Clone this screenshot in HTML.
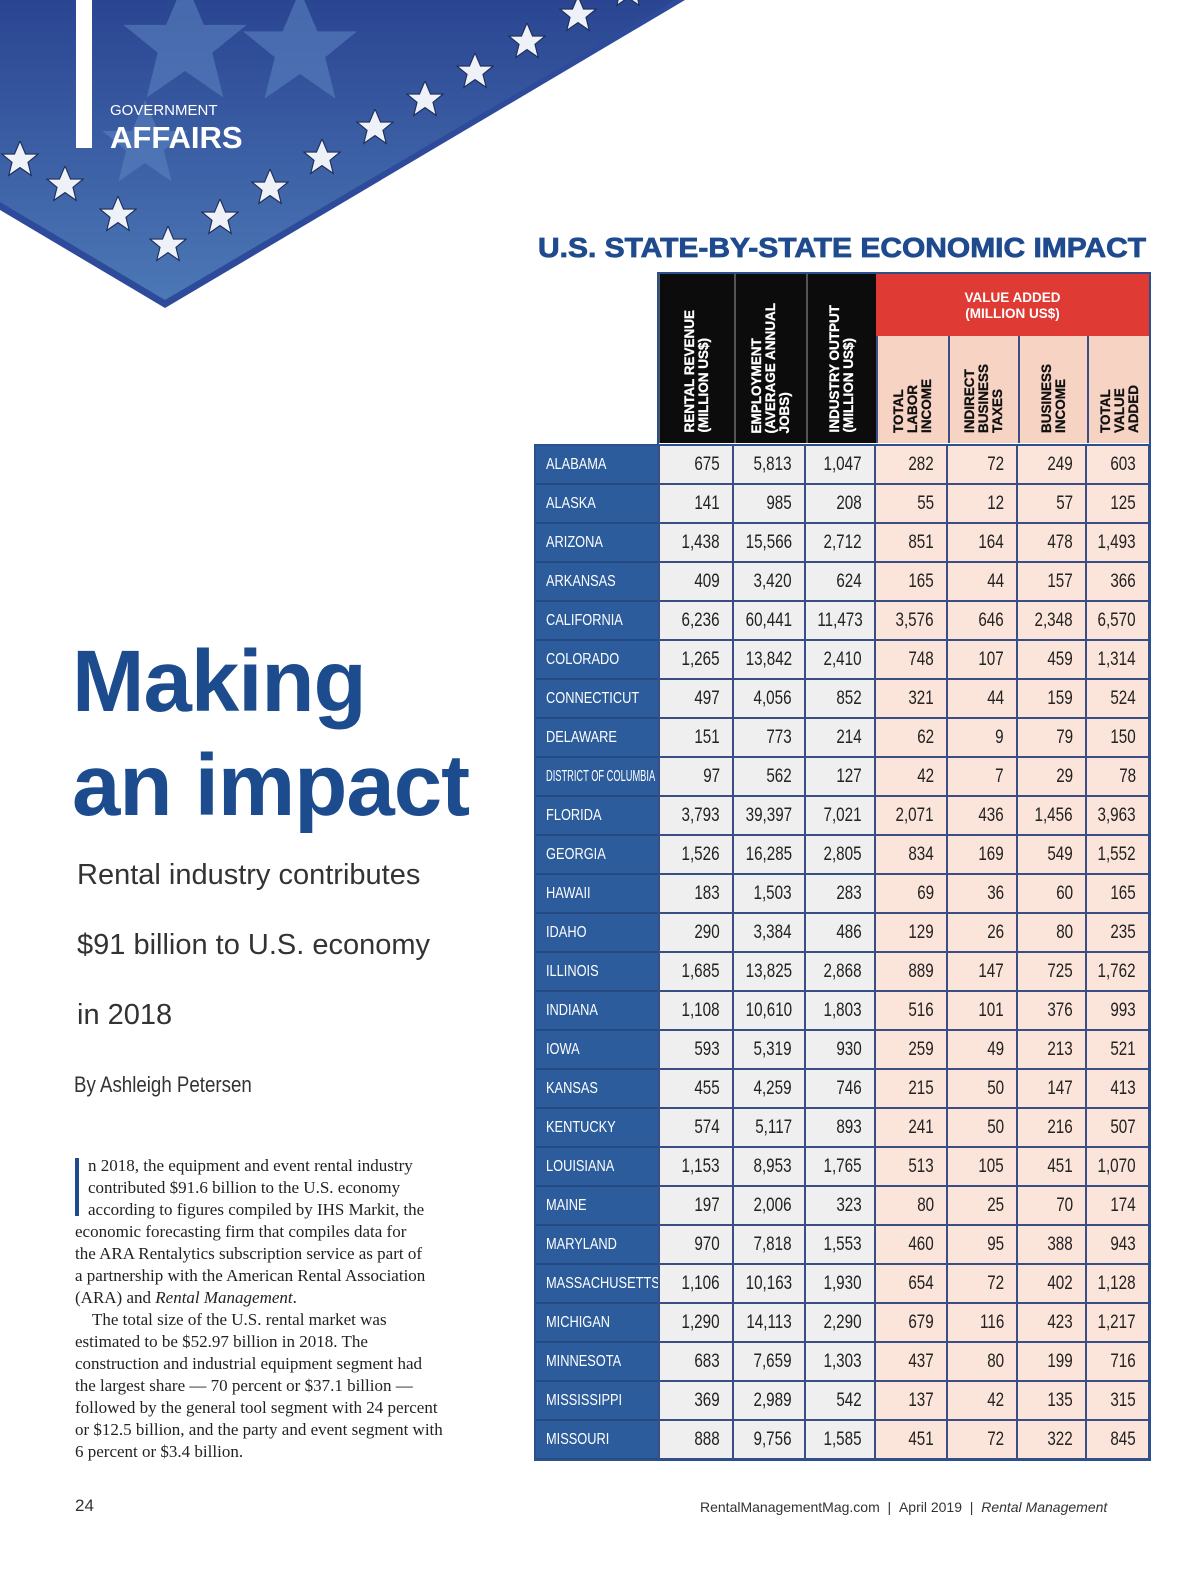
<!DOCTYPE html>
<html><head><meta charset="utf-8">
<style>
body{margin:0;width:1200px;height:1570px;background:#fff;position:relative;overflow:hidden;font-family:"Liberation Sans",sans-serif}
.abs{position:absolute}
#title{left:538px;top:232px;font:bold 28px "Liberation Sans",sans-serif;color:#1f4b8e;transform:scaleX(1.07);transform-origin:left;white-space:nowrap;letter-spacing:0;-webkit-text-stroke:0.8px #1f4b8e}
.hd{position:absolute;background:#0c0c0c;border-left:2px solid #555;top:273px;height:170px;box-sizing:border-box;display:flex;align-items:flex-end;justify-content:center;padding-bottom:10px}
.vt{writing-mode:vertical-rl;transform:rotate(180deg);font:bold 13.5px "Liberation Sans",sans-serif;line-height:14px;white-space:nowrap;color:#fff;text-align:left;-webkit-text-stroke:0.3px currentColor}
.cell{position:absolute;box-sizing:border-box;font:19px "Liberation Sans",sans-serif;color:#222;text-align:right;padding-right:12px;line-height:38px;border-right:2px solid #3a4d85;border-bottom:2px solid #3a4d85;white-space:nowrap}
.cell span{display:inline-block;transform:scaleX(0.8);transform-origin:right center}
.st{color:#fff;background:#2c5c9b;text-align:left;padding-left:11px;font-size:16px}
.st span{transform-origin:left center}
#body{left:75px;top:1155px;font:17px 'Liberation Serif',serif;color:#222;line-height:22px;white-space:nowrap}
</style></head><body>
<svg class="abs" style="left:0;top:0" width="700" height="320">
<defs><linearGradient id="g" x1="0" y1="0" x2="0" y2="1"><stop offset="0" stop-color="#2a4592"/><stop offset="1" stop-color="#4c78b6"/></linearGradient>
<symbol id="st" viewBox="-10 -10 20 20"><polygon points="0,-10 2.9,-3.1 9.5,-3.1 4.2,1.2 5.9,8.1 0,4 -5.9,8.1 -4.2,1.2 -9.5,-3.1 -2.9,-3.1"/></symbol></defs>
<polygon points="0,0 685,0 165,308 0,210" fill="#2e4a9a"/>
<polygon points="0,0 675,0 165,300 0,202" fill="url(#g)"/>
<g fill="#5a82c0" opacity=".6"><use href="#st" x="120" y="-20" width="130" height="130"/><use href="#st" x="240" y="-10" width="120" height="120"/><use href="#st" x="100" y="100" width="90" height="90"/></g>
<g fill="#eef2f8" stroke="#1f2f5a" stroke-width="0.6" id="stars"></g>
<rect x="76" y="0" width="16" height="148" fill="#fff"/>
<text x="110" y="115" fill="#fff" font-size="15" font-family="Liberation Sans">GOVERNMENT</text>
<text x="110" y="148" fill="#fff" font-size="31" font-weight="bold" font-family="Liberation Sans">AFFAIRS</text>
</svg>
<div class="abs" style="left:72px;top:630px;font:bold 87px 'Liberation Sans',sans-serif;color:#1d4c8e;line-height:104px;letter-spacing:-1px">Making<br>an impact</div>
<div class="abs" style="left:77px;top:840px;font:29px 'Liberation Sans',sans-serif;color:#333;line-height:70px">Rental industry contributes<br>$91 billion to U.S. economy<br>in 2018</div>
<div class="abs" style="left:74px;top:1072px;font:22px 'Liberation Sans',sans-serif;color:#333;transform:scaleX(0.85);transform-origin:left">By Ashleigh Petersen</div>
<div id="body" class="abs"><div style="position:absolute;left:0;top:3px;width:4px;height:58px;background:#1d4c8e"></div><div style="padding-left:13px">n 2018, the equipment and event rental industry<br>contributed $91.6 billion to the U.S. economy<br>according to figures compiled by IHS Markit, the</div>economic forecasting firm that compiles data for<br>the ARA Rentalytics subscription service as part of<br>a partnership with the American Rental Association<br>(ARA) and <i>Rental Management</i>.<br>&nbsp;&nbsp;&nbsp;&nbsp;The total size of the U.S. rental market was<br>estimated to be $52.97 billion in 2018. The<br>construction and industrial equipment segment had<br>the largest share — 70 percent or $37.1 billion —<br>followed by the general tool segment with 24 percent<br>or $12.5 billion, and the party and event segment with<br>6 percent or $3.4 billion.</div>
<div class="abs" style="left:75px;top:1496px;font:17px 'Liberation Sans',sans-serif;color:#333">24</div>
<div class="abs" style="left:700px;top:1499px;font:14px 'Liberation Sans',sans-serif;color:#333;white-space:nowrap">RentalManagementMag.com &nbsp;| &nbsp;April 2019 &nbsp;| &nbsp;<i>Rental Management</i></div>
<div id="title" class="abs">U.S. STATE-BY-STATE ECONOMIC IMPACT</div>
<div id="tbl"></div>
<script>
const states=["ALABAMA","ALASKA","ARIZONA","ARKANSAS","CALIFORNIA","COLORADO","CONNECTICUT","DELAWARE","DISTRICT OF COLUMBIA","FLORIDA","GEORGIA","HAWAII","IDAHO","ILLINOIS","INDIANA","IOWA","KANSAS","KENTUCKY","LOUISIANA","MAINE","MARYLAND","MASSACHUSETTS","MICHIGAN","MINNESOTA","MISSISSIPPI","MISSOURI"];
const rentalRevenue=["675","141","1,438","409","6,236","1,265","497","151","97","3,793","1,526","183","290","1,685","1,108","593","455","574","1,153","197","970","1,106","1,290","683","369","888"];
const employment=["5,813","985","15,566","3,420","60,441","13,842","4,056","773","562","39,397","16,285","1,503","3,384","13,825","10,610","5,319","4,259","5,117","8,953","2,006","7,818","10,163","14,113","7,659","2,989","9,756"];
const industryOutput=["1,047","208","2,712","624","11,473","2,410","852","214","127","7,021","2,805","283","486","2,868","1,803","930","746","893","1,765","323","1,553","1,930","2,290","1,303","542","1,585"];
const laborIncome=["282","55","851","165","3,576","748","321","62","42","2,071","834","69","129","889","516","259","215","241","513","80","460","654","679","437","137","451"];
const indirectTaxes=["72","12","164","44","646","107","44","9","7","436","169","36","26","147","101","49","50","50","105","25","95","72","116","80","42","72"];
const businessIncome=["249","57","478","157","2,348","459","159","79","29","1,456","549","60","80","725","376","213","147","216","451","70","388","402","423","199","135","322"];
const totalValueAdded=["603","125","1,493","366","6,570","1,314","524","150","78","3,963","1,552","165","235","1,762","993","521","413","507","1,070","174","943","1,128","1,217","716","315","845"];
const headers=["RENTAL REVENUE<br>(MILLION US$)","EMPLOYMENT<br>(AVERAGE ANNUAL<br>JOBS)","INDUSTRY OUTPUT<br>(MILLION US$)","TOTAL<br>LABOR<br>INCOME","INDIRECT<br>BUSINESS<br>TAXES","BUSINESS<br>INCOME","TOTAL<br>VALUE<br>ADDED"];
const cols=[rentalRevenue,employment,industryOutput,laborIncome,indirectTaxes,businessIncome,totalValueAdded];
const xs=[535,658,734,806,876,948,1018,1087,1150];
const t=document.getElementById('tbl');
headers.forEach((h,i)=>{const d=document.createElement('div');d.className='hd';


const x0=xs[i+1],x1=xs[i+2];d.style.left=x0+'px';d.style.width=(x1-x0)+'px';
if(i>=3){d.style.background='#f7d3c4';d.style.top='336px';d.style.height='107px';d.style.borderLeft='2px solid #3a4d85';}
const s=document.createElement('div');s.className='vt';s.innerHTML=h;if(i>=3)s.style.color='#111';
d.appendChild(s);t.appendChild(d);});
const red=document.createElement('div');red.className='abs';


red.style.cssText='left:876px;top:273px;width:273px;height:63px;background:#df3a33;color:#fff;font:bold 13.5px "Liberation Sans",sans-serif;text-align:center;line-height:16px;padding-top:17px;box-sizing:border-box';
red.innerHTML='VALUE ADDED<br>(MILLION US$)';
t.appendChild(red);
const fr=document.createElement('div');fr.className='abs';


fr.style.cssText='left:657px;top:272px;width:494px;height:172px;border:2px solid #2c4f8e;box-sizing:border-box;border-bottom:none';
t.appendChild(fr);
const rowH=39,top0=446;
states.forEach((st,r)=>{
 const y=top0+r*rowH;
 const c=document.createElement('div');c.className='cell st';
 
 
 c.style.cssText+=`left:${xs[0]}px;top:${y}px;width:${xs[1]-xs[0]}px;height:${rowH}px;border-right:none;border-bottom:2px solid #234a82`;
 const sp=document.createElement('span');sp.textContent=st;
 if(st.length>15){sp.style.transform='scaleX(0.58)';}
 c.appendChild(sp);t.appendChild(c);
 cols.forEach((arr,i)=>{const d=document.createElement('div');d.className='cell';
 
 
 d.style.cssText+=`left:${xs[i+1]}px;top:${y}px;width:${xs[i+2]-xs[i+1]}px;height:${rowH}px;background:${i>=3?'#fbe4da':'#efefef'};border-left:${i==0?'2px solid #3a4d85':'none'}`;
 const s2=document.createElement('span');s2.textContent=arr[r];d.appendChild(s2);t.appendChild(d);});
});
const ob=document.createElement('div');ob.className='abs';


ob.style.cssText=`left:534px;top:${top0-2}px;width:617px;height:${rowH*26+3}px;border:2px solid #2c4f8e;box-sizing:border-box`;
t.appendChild(ob);
const sp=[[20,160],[65,185],[118,215],[168,245],[220,218],[270,188],[322,158],[375,128],[425,100],[475,72],[527,42],[578,15],[628,-10]];
const g=document.getElementById('stars');
sp.forEach(p=>{const u=document.createElementNS('http://www.w3.org/2000/svg','use');
u.setAttribute('href','#st');u.setAttribute('x',p[0]-19);u.setAttribute('y',p[1]-19);u.setAttribute('width',38);u.setAttribute('height',38);


g.appendChild(u);});
</script>
</body></html>
